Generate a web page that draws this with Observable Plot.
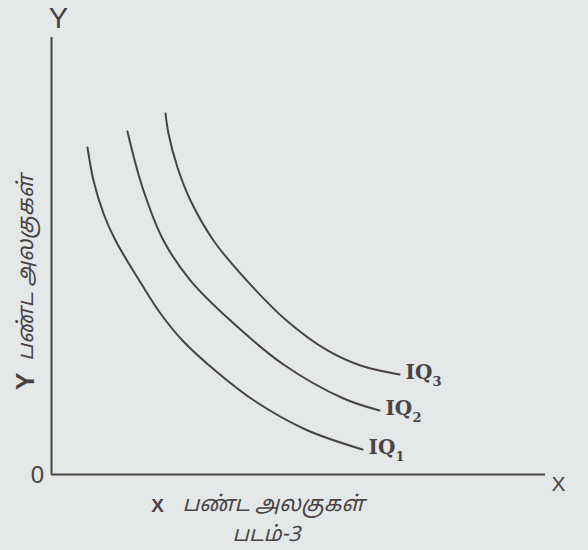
<!DOCTYPE html>
<html>
<head>
<meta charset="utf-8">
<script src="https://cdn.jsdelivr.net/npm/d3@7"></script>
<script src="https://cdn.jsdelivr.net/npm/@observablehq/plot@0.6"></script>
<style>
  html, body { margin: 0; padding: 0; background: #e4e8e9; }
  #chart svg { display: block; background: #e4e8e9; }
</style>
</head>
<body>
<div id="chart"></div>
<script>
// Isoquant curves (arbitrary units: X goods on x, Y goods on y, 0–100)
const curveNames = ["IQ", "IQ", "IQ"];
const curveSubs = ["1", "2", "3"];
const iq1X = [7.29, 8.50, 10.53, 12.96, 18.02, 22.06, 26.52, 33.60, 41.30, 51.42, 62.96];
const iq1Y = [74.83, 67.28, 59.73, 53.55, 43.94, 36.84, 30.66, 23.34, 16.70, 10.30, 5.72];
const iq2X = [15.38, 18.42, 22.67, 28.14, 36.23, 46.96, 59.11, 66.40];
const iq2Y = [78.49, 65.68, 53.55, 44.39, 35.24, 25.17, 17.39, 14.65];
const iq3X = [23.08, 23.68, 25.51, 28.14, 32.79, 39.68, 47.57, 55.87, 62.55, 70.45];
const iq3Y = [82.61, 78.03, 70.25, 62.70, 53.55, 44.20, 35.24, 28.38, 24.94, 22.88];

const axisY = "Y";
const axisX = "X";
const originLabel = "0";
const yTitle = "பண்ட அலகுகள்";
const xTitle = "பண்ட அலகுகள்";
const caption = "படம்-3";

const series = [[iq1X, iq1Y], [iq2X, iq2Y], [iq3X, iq3Y]];
const rows = [];
series.forEach(([xs, ys], i) => xs.forEach((x, j) => rows.push({curve: curveSubs[i], x, y: ys[j]})));
const ends = series.map(([xs, ys], i) => ({x: xs[xs.length - 1], y: ys[ys.length - 1], name: curveNames[i], sub: curveSubs[i]}));

const ink = "#4a4344";
const tamilFont = "'Noto Sans Tamil', 'Lohit Tamil', 'Latha', 'Noto Sans', sans-serif";

const chart = Plot.plot({
  width: 588,
  height: 550,
  marginLeft: 51,
  marginRight: 43,
  marginTop: 37,
  marginBottom: 76,
  style: {background: "#e4e8e9", color: ink},
  x: {domain: [0, 100], axis: null},
  y: {domain: [0, 100], axis: null},
  marks: [
    Plot.ruleX([0], {stroke: ink, strokeWidth: 2}),
    Plot.ruleY([0], {stroke: ink, strokeWidth: 2}),
    Plot.line(rows, {x: "x", y: "y", z: "curve", curve: "catmull-rom", stroke: ink, strokeWidth: 2}),
    Plot.text(ends, {x: "x", y: "y", text: "name", textAnchor: "start", dx: 6, dy: -2,
      fontFamily: "DejaVu Serif", fontWeight: "bold", fontSize: 20, fill: ink}),
    Plot.text(ends, {x: "x", y: "y", text: "sub", textAnchor: "start", dx: 33, dy: 7,
      fontFamily: "DejaVu Serif", fontWeight: "bold", fontSize: 13, fill: ink}),
    // axis end labels
    Plot.text([axisY], {x: 0, y: 100, text: d => d, dx: 7, dy: -19, fontFamily: "Liberation Sans", fontSize: 29, fill: ink}),
    Plot.text([axisX], {x: 100, y: 0, text: d => d, dx: 13, dy: 10, fontFamily: "Liberation Sans", fontSize: 21, fill: ink}),
    Plot.text([originLabel], {x: 0, y: 0, text: d => d, dx: -14, dy: 1, fontFamily: "Liberation Sans", fontSize: 24, fill: ink}),
    // y title (rotated)
    Plot.text([axisY], {x: 0, y: 21.3, text: d => d, dx: -26, rotate: -90, fontFamily: "Liberation Sans", fontWeight: "bold", fontSize: 26, fill: ink}),
    Plot.text([yTitle], {x: 0, y: 26, text: d => d, dx: -26, rotate: -90, textAnchor: "start", fontFamily: tamilFont, fontStyle: "italic", fontSize: 22, fill: ink}),
    // x title
    Plot.text([axisX], {x: 21.5, y: 0, text: d => d, dy: 31, fontFamily: "Liberation Sans", fontWeight: "bold", fontSize: 19, fill: ink}),
    Plot.text([xTitle], {x: 26.5, y: 0, text: d => d, dy: 30, textAnchor: "start", fontFamily: tamilFont, fontStyle: "italic", fontSize: 21.5, fill: ink}),
    // caption
    Plot.text([caption], {x: 43.5, y: 0, text: d => d, dy: 60, fontFamily: tamilFont, fontStyle: "italic", fontSize: 21, fill: ink})
  ]
});
document.getElementById("chart").appendChild(chart);
</script>
</body>
</html>
